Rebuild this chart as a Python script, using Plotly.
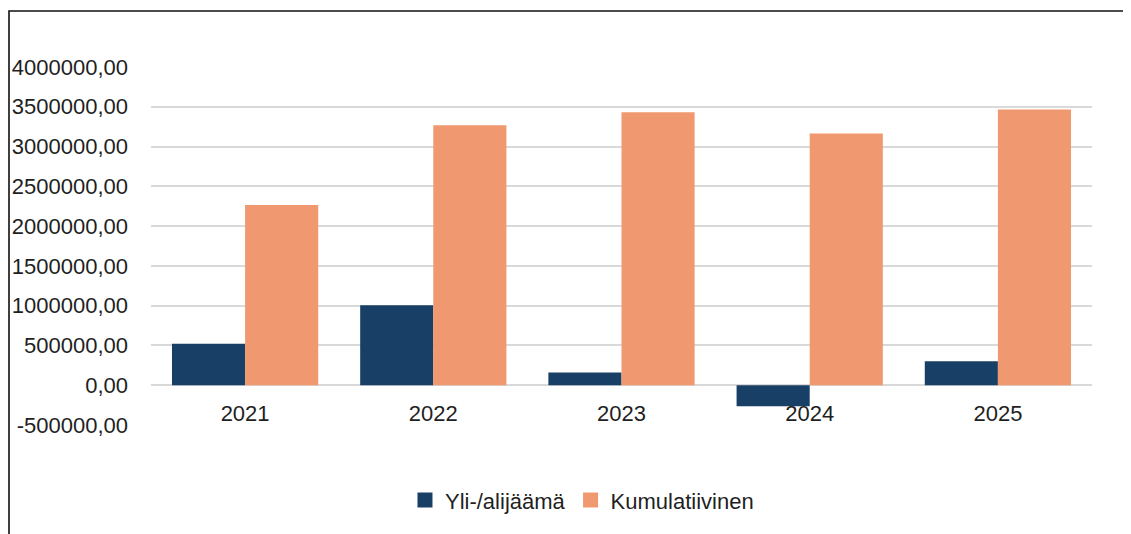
import plotly.graph_objects as go

# values
years = ["2021", "2022", "2023", "2024", "2025"]
yli_alijaama = [520000, 1005000, 160000, -265000, 300000]
kumulatiivinen = [2264000, 3268000, 3430000, 3163000, 3466000]
series_names = ["Yli-/alijäämä", "Kumulatiivinen"]
series_colors = ["#183F66", "#F0986F"]

y_min, y_max, y_step = -500000, 4000000, 500000
y_ticks = list(range(y_min, y_max + 1, y_step))
y_ticktext = [f"{v:.2f}".replace(".", ",") for v in y_ticks]

# page body has an 8px margin, so the figure is drawn 8px smaller
W, H = 1123, 526
L, R, T, B = 143, 39, 59, 109
FONT = "Liberation Sans, Arial, sans-serif"
TXT = "#1F1F1F"


def px_to_paper_x(px):
    return (px - L) / (W - L - R)


def px_to_paper_y(py):
    return (H - B - py) / (H - T - B)


fig = go.Figure()
for name, vals, col in zip(series_names, [yli_alijaama, kumulatiivinen], series_colors):
    fig.add_trace(go.Bar(x=years, y=vals, name=name, showlegend=False,
                         marker=dict(color=col, line=dict(width=0))))
# legend entries with larger square swatches
for name, col in zip(series_names, series_colors):
    fig.add_trace(go.Scatter(x=[None], y=[None], mode="markers", name=name,
                             marker=dict(symbol="square", size=15, color=col)))

fig.update_layout(
    width=W, height=H,
    margin=dict(l=L, r=R, t=T, b=B, autoexpand=False),
    paper_bgcolor="white", plot_bgcolor="white",
    barmode="group", bargap=0.223, bargroupgap=0,
    font=dict(family=FONT, size=22, color=TXT),
    showlegend=True,
    legend=dict(orientation="h", x=0.458, xanchor="center",
                y=-0.21, yanchor="middle",
                font=dict(family=FONT, size=22, color=TXT),
                itemwidth=30, traceorder="normal"),
    xaxis=dict(anchor="free", position=(0 - y_min) / (y_max - y_min),
               automargin=False,
               showline=False, showgrid=False, ticks="",
               ticklabelstandoff=13,
               tickfont=dict(family=FONT, size=22, color=TXT)),
    yaxis=dict(range=[y_min, y_max], tickvals=y_ticks, ticktext=y_ticktext,
               automargin=False,
               showgrid=True, gridcolor="#D9D9D9",
               gridwidth=1.5, zeroline=True, zerolinecolor="#D9D9D9",
               zerolinewidth=1.5, showline=False, ticks="",
               ticklabelstandoff=22,
               tickfont=dict(family=FONT, size=22, color=TXT)),
)

# chart area border (only top and left edges fall inside the crop)
fig.add_shape(type="rect", xref="paper", yref="paper",
              x0=px_to_paper_x(1), x1=px_to_paper_x(W + 20),
              y0=px_to_paper_y(H + 20), y1=px_to_paper_y(3),
              line=dict(color="#111111", width=1.6), layer="above")

fig.write_html("out.html")
